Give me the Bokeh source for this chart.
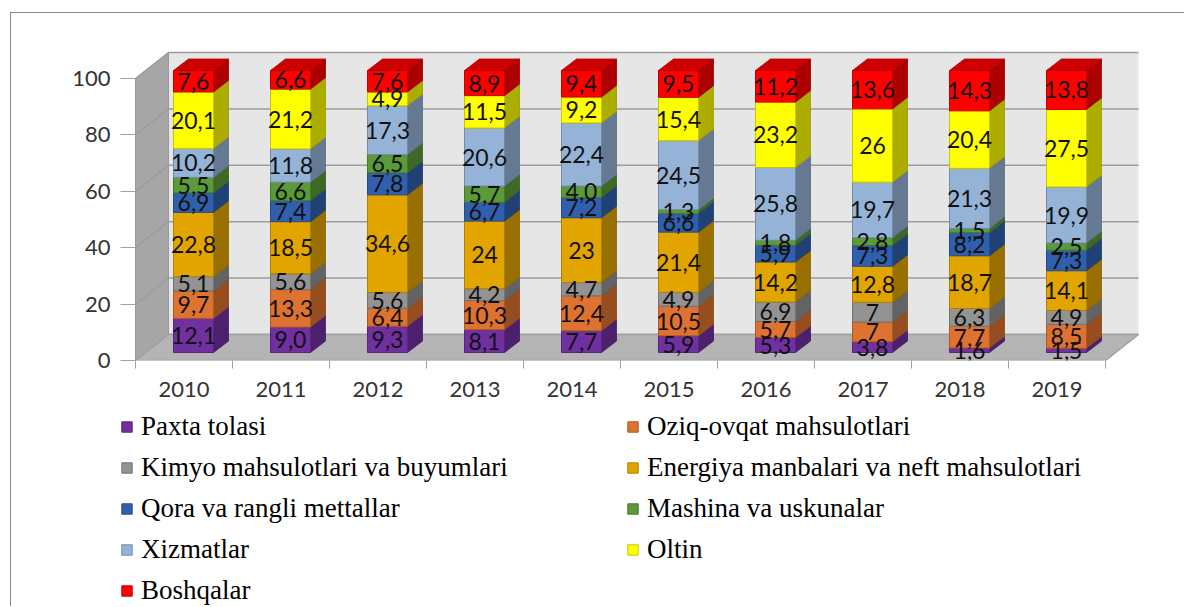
from bokeh.plotting import figure
from bokeh.layouts import column
from bokeh.models import Range1d, FixedTicker, Legend, LegendItem, ColumnDataSource
from bokeh.embed import file_html
from bokeh.resources import INLINE
from bokeh.core.properties import value

# ---------------- data ----------------
years = ["2010", "2011", "2012", "2013", "2014", "2015", "2016", "2017", "2018", "2019"]
series_names = [
    "Paxta tolasi",
    "Oziq-ovqat mahsulotlari",
    "Kimyo mahsulotlari va buyumlari",
    "Energiya manbalari va neft mahsulotlari",
    "Qora va rangli mettallar",
    "Mashina va uskunalar",
    "Xizmatlar",
    "Oltin",
    "Boshqalar",
]
paxta = [12.1, 9.0, 9.3, 8.1, 7.7, 5.9, 5.3, 3.8, 1.6, 1.5]
oziq = [9.7, 13.3, 6.4, 10.3, 12.4, 10.5, 5.7, 7, 7.7, 8.5]
kimyo = [5.1, 5.6, 5.6, 4.2, 4.7, 4.9, 6.9, 7, 6.3, 4.9]
energiya = [22.8, 18.5, 34.6, 24, 23, 21.4, 14.2, 12.8, 18.7, 14.1]
qora = [6.9, 7.4, 7.8, 6.7, 7.2, 6.6, 5.9, 7.3, 8.2, 7.3]
mashina = [5.5, 6.6, 6.5, 5.7, 4.0, 1.3, 1.8, 2.8, 1.5, 2.5]
xizmat = [10.2, 11.8, 17.3, 20.6, 22.4, 24.5, 25.8, 19.7, 21.3, 19.9]
oltin = [20.1, 21.2, 4.9, 11.5, 9.2, 15.4, 23.2, 26, 20.4, 27.5]
boshqa = [7.6, 6.6, 7.6, 8.9, 9.4, 9.5, 11.2, 13.6, 14.3, 13.8]
y_ticks = [0, 20, 40, 60, 80, 100]

series_values = [paxta, oziq, kimyo, energiya, qora, mashina, xizmat, oltin, boshqa]
colors = ["#7030A0", "#DE7230", "#939393", "#E2A500", "#3060AD",
          "#5B9A38", "#95B3D7", "#FFFF00", "#FF0000"]

# ---------------- geometry (style constants) ----------------
PX_X = 97.0     # pixels per category
PX_Y = 2.82     # pixels per percent
LPAD = 15       # frame starts this many px left of the left wall
WDX, WDY = 33 / PX_X, 26 / PX_Y       # depth of the walls
BOX, BOY = 9.5 / PX_X, 8 / PX_Y        # bar front-face offset
BDX, BDY = 15 / PX_X, 11.5 / PX_Y      # bar depth
BW = 40 / PX_X                         # bar width


def shade(h, f):
    h = h.lstrip("#")
    r, g, b = int(h[0:2], 16), int(h[2:4], 16), int(h[4:6], 16)
    return "#%02x%02x%02x" % (int(r * f), int(g * f), int(b * f))


def fmt(v):
    return str(v).replace(".", ",")


n = len(years)
x0, x1 = -0.5, n - 0.5
W = 1173
FW = 1030

p = figure(
    width=W, height=395,
    x_range=Range1d(x0 - LPAD / PX_X, x0 + (FW - LPAD) / PX_X),
    y_range=Range1d(0, 316 / PX_Y),
    output_backend="svg", toolbar_location=None,
    min_border_left=109, min_border_top=31, min_border_right=34, min_border_bottom=48,
)
p.outline_line_color = None
p.xgrid.visible = False
p.ygrid.visible = False
p.background_fill_color = "white"
p.border_fill_color = "white"

# ---------------- walls / floor ----------------
top = max(y_ticks)
p.patch([x0 + WDX, x1 + WDX, x1 + WDX, x0 + WDX], [WDY, WDY, top + WDY, top + WDY],
        fill_color="#e6e6e6", line_color=None)
p.patch([x0, x0 + WDX, x0 + WDX, x0], [0, WDY, top + WDY, top],
        fill_color="#a6a6a6", line_color="#9a9a9a", line_width=1)
gx, gy = [], []
for t in y_ticks:
    gx.append([x0, x0 + WDX, x1 + WDX])
    gy.append([t, t + WDY, t + WDY])
p.multi_line(gx, gy, line_color="#9c9c9c", line_width=1.5)
p.patch([x0, x1, x1 + WDX, x0 + WDX], [0, 0, WDY, WDY],
        fill_color="#b4b4b4", line_color="#a0a0a0", line_width=1.5)

# ---------------- stacked 3D bars ----------------
bottoms = [0.0] * n
sources = []
lab_x, lab_y, lab_t = [], [], []
for si, vals in enumerate(series_values):
    c = colors[si]
    lefts = [j - BW / 2 + BOX for j in range(n)]
    rights = [j + BW / 2 + BOX for j in range(n)]
    bots = [bottoms[j] + BOY for j in range(n)]
    tops = [bottoms[j] + vals[j] + BOY for j in range(n)]
    sxs = [[rights[j], rights[j] + BDX, rights[j] + BDX, rights[j]] for j in range(n)]
    sys_ = [[bots[j], bots[j] + BDY, tops[j] + BDY, tops[j]] for j in range(n)]
    p.patches(sxs, sys_, fill_color=shade(c, 0.68), line_color=shade(c, 0.6), line_width=0.8)
    src = ColumnDataSource(dict(left=lefts, right=rights, bottom=bots, top=tops))
    sources.append(src)
    p.quad(left="left", right="right", bottom="bottom", top="top", source=src,
           fill_color=c, line_color=shade(c, 0.78), line_width=1)
    if si == len(series_values) - 1:
        txs = [[lefts[j], rights[j], rights[j] + BDX, lefts[j] + BDX] for j in range(n)]
        tys = [[tops[j], tops[j], tops[j] + BDY, tops[j] + BDY] for j in range(n)]
        p.patches(txs, tys, fill_color=shade(c, 0.8), line_color=shade(c, 0.7), line_width=0.8)
    for j in range(n):
        lab_x.append(j + BOX)
        lab_y.append(bottoms[j] + vals[j] / 2 + BOY)
        lab_t.append(fmt(vals[j]))
        bottoms[j] += vals[j]

p.text(x=lab_x, y=lab_y, text=lab_t, text_align="center", text_baseline="middle",
       text_font=value("Lato"), text_font_size="23px", text_color="#111111")

# ---------------- axes ----------------
xa = p.xaxis[0]
xa.ticker = FixedTicker(ticks=list(range(n)), minor_ticks=[j - 0.5 for j in range(n + 1)])
xa.major_label_overrides = {j: years[j] for j in range(n)}
xa.axis_line_color = None
xa.major_tick_line_color = None
xa.major_tick_out = 8
xa.major_tick_in = 0
xa.minor_tick_out = 8
xa.minor_tick_in = 0
xa.minor_tick_line_color = "#a0a0a0"
xa.major_label_standoff = 13
xa.major_label_text_font = "Lato"
xa.major_label_text_font_size = "22px"
xa.major_label_text_color = "#333333"

ya = p.yaxis[0]
ya.ticker = FixedTicker(ticks=y_ticks)
ya.axis_line_color = None
ya.major_tick_out = 0
ya.major_tick_in = LPAD
ya.major_tick_line_color = "#a0a0a0"
ya.minor_tick_line_color = None
ya.major_label_standoff = 10
ya.major_label_text_font = "Lato"
ya.major_label_text_font_size = "22px"
ya.major_label_text_color = "#333333"

# ---------------- legend panel (proxies of the bar series, kept out of view) ----------------
LH = 198
pl = figure(width=W, height=LH, x_range=Range1d(x0, x1), y_range=Range1d(-LH, -1),
            output_backend="svg", toolbar_location=None,
            x_axis_location=None, y_axis_location=None,
            min_border_left=109, min_border_right=34, min_border_top=0, min_border_bottom=0)
pl.outline_line_color = None
pl.xgrid.visible = False
pl.ygrid.visible = False
pl.background_fill_color = "white"
pl.border_fill_color = "white"
items = []
for i, name in enumerate(series_names):
    r = pl.quad(left="left", right="right", bottom="bottom", top="top", source=sources[i],
                fill_color=colors[i], line_color=shade(colors[i], 0.78), line_width=1)
    items.append(LegendItem(label=name, renderers=[r]))
legend = Legend(
    items=items, location=(0, 0), orientation="horizontal", ncols=2,
    label_text_font="Liberation Serif", label_text_font_size="27px", label_text_color="#000000",
    glyph_width=13, glyph_height=13, label_standoff=8, label_width=475, label_height=28,
    spacing=10, padding=0, margin=0, border_line_color=None, background_fill_alpha=0,
)
pl.add_layout(legend)

layout = column(p, pl, spacing=0, margin=(12, 0, 0, 10))
layout.styles = {"border-left": "1px solid #8a8a8a", "border-top": "1px solid #8a8a8a"}

open("out.html", "w").write(file_html(layout, INLINE))
